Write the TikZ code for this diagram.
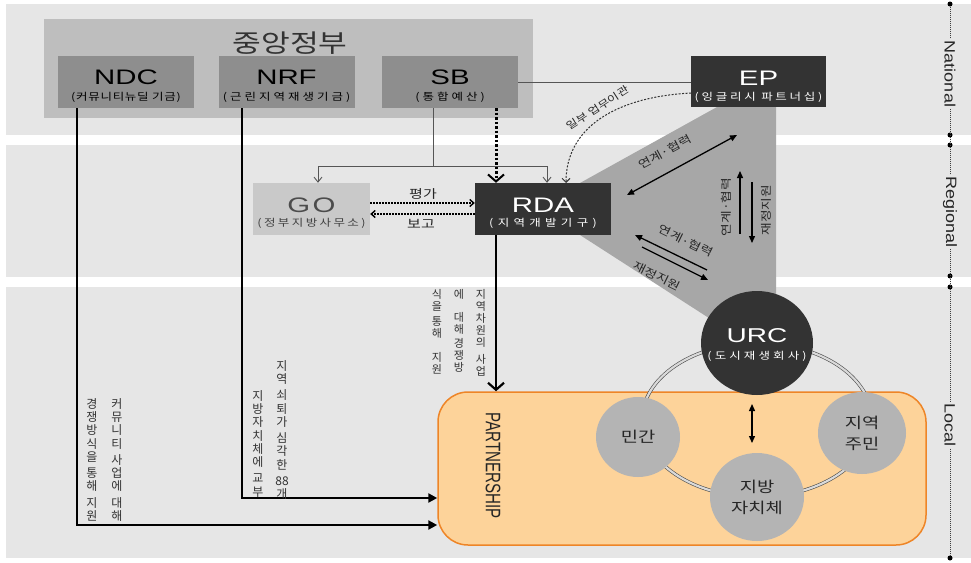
\documentclass[tikz,border=0pt]{standalone}
\usepackage{fontspec}
\setmainfont{Noto Sans CJK KR}[FakeStretch=1.25]
\newfontfamily\krv{Noto Sans CJK KR}
\newfontfamily\latt{Liberation Sans}[FakeStretch=1.4]
\newfontfamily\lata{Liberation Sans}[FakeStretch=1.2]
\newfontfamily\latn{Liberation Sans}[FakeStretch=0.72]
\usetikzlibrary{arrows.meta,calc,shapes.geometric}
\definecolor{bandbg}{HTML}{E6E6E6}
\definecolor{govgray}{HTML}{BEBEBE}
\definecolor{fundgray}{HTML}{8E8E8E}
\definecolor{gogray}{HTML}{C9C9C9}
\definecolor{darkbox}{HTML}{333333}
\definecolor{wedge}{HTML}{A7A7A7}
\definecolor{actor}{HTML}{B4B4B4}
\definecolor{pfill}{HTML}{FDD39A}
\definecolor{pline}{HTML}{EE8527}
\definecolor{thinline}{HTML}{555555}

\begin{document}
\begin{tikzpicture}[x=1pt,y=-1pt,
  fund/.style={fill=fundgray,minimum width=136pt,minimum height=52pt,inner sep=0pt},
  dbox/.style={fill=darkbox,minimum width=136pt,minimum height=52pt,inner sep=0pt},
  gobox/.style={fill=gogray,minimum width=117pt,minimum height=52pt,inner sep=0pt},
  ttl/.style={font=\latt\fontsize{21}{21}\selectfont\addfontfeature{LetterSpace=#1},inner sep=0pt},
  ttl/.default=0,
  sub/.style={font=\fontsize{10}{11}\selectfont\addfontfeature{LetterSpace=#1},inner sep=0pt},
  sub/.default=0,
  vcol/.style={font=\krv\fontsize{12}{13.3}\selectfont,align=center,inner sep=0pt,anchor=north,text=black!80},
  vsm/.style={font=\krv\fontsize{11}{12}\selectfont,align=center,inner sep=0pt,anchor=north,text=black!80},
  lbl/.style={font=\fontsize{11}{12}\selectfont,inner sep=0pt,text=black!85},
  actorc/.style={ellipse,fill=actor,inner sep=0pt,align=center,font=\fontsize{15}{21}\selectfont,text=black!85},
  trunk/.style={line width=2.5pt,-{Triangle[length=9pt,width=9pt]}},
  feed/.style={thinline,line width=0.9pt},
  barb/.style={-{Straight Barb[length=5pt,width=8pt]}},
  twoway/.style={line width=1.3pt,{Triangle[length=7pt,width=6pt]}-{Triangle[length=7pt,width=6pt]}},
  oneway/.style={line width=1.3pt,-{Triangle[length=7pt,width=6pt]}},
  report/.style={line width=1.4pt,dash pattern=on 2pt off 1pt,-{Straight Barb[length=4pt,width=7pt]}},
  axl/.style={font=\lata\fontsize{15}{15}\selectfont,rotate=-90,fill=bandbg,inner sep=1.5pt,text=black!85},
  axdot/.style={circle,fill=black,inner sep=0pt,minimum size=5pt},
]
\useasboundingbox (0,0) rectangle (971,562);
\fill[white] (0,0) rectangle (971,562);

% level bands
\fill[bandbg] (6,4) rectangle (971,135);
\fill[bandbg] (6,145) rectangle (971,277);
\fill[bandbg] (6,287) rectangle (971,558);

% central government and its funds
\node[fill=govgray,minimum width=489pt,minimum height=99pt,inner sep=0pt] (cg) at (288.5,68.5) {};
\node[font=\fontsize{25}{25}\selectfont,text=black!80,inner sep=0pt] (cgt) at (290,43) {중앙정부};

\node[fund] (ndc) at (126,82) {};
\node[ttl] (ndct) at (126,77.5) {NDC};
\node[sub=7] (ndcs) at (126,97.5) {(커뮤니티뉴딜 기금)};
\node[fund] (nrf) at (286.5,82) {};
\node[ttl] (nrft) at (286.5,77.5) {NRF};
\node[sub=30] (nrfs) at (286.5,97.5) {(근린지역재생기금)};
\node[fund] (sb) at (450,82) {};
\node[ttl] (sbt) at (450,77.5) {SB};
\node[sub=30] (sbs) at (450,97.5) {(통합예산)};

% shaded wedge linking RDA, EP and URC
\fill[wedge] (580,183) -- (717,107) -- (776,107) -- (776,320) -- (712,320) -- (580,235) -- cycle;

% English Partnerships
\node[dbox,minimum width=135pt,minimum height=51pt] (ep) at (758.5,81.5) {};
\node[ttl,text=white] (ept) at (758.5,78) {EP};
\node[sub=27,text=white] (eps) at (758.5,97.5) {(잉글리시 파트너십)};

% regional bodies
\node[gobox] (go) at (311.5,209) {};
\node[ttl=12,text=black!70] (got) at (311.5,205) {GO};
\node[sub=24,text=black!75] (gos) at (311.5,223) {(정부지방사무소)};
\node[dbox] (rda) at (543,209) {};
\node[ttl,text=white] (rdat) at (543,205) {RDA};
\node[sub=43,text=white] (rdas) at (543,223) {(지역개발기구)};

% local partnership
\node[draw=pline,fill=pfill,line width=1.5pt,rounded corners=30pt,minimum width=488pt,minimum height=153pt,inner sep=0pt] (ps) at (682,468.5) {};
\node[font=\latn\fontsize{21}{21}\selectfont,rotate=-90,inner sep=0pt,text=black!85] (pst) at (493,466) {PARTNERSHIP};

% ring joining the partners
\draw[black!70,line width=0.6pt,double=actor!50!white,double distance=2.2pt] (757,420) ellipse [x radius=115pt, y radius=77pt];

\node[ellipse,fill=darkbox,minimum width=112pt,minimum height=104pt,inner sep=0pt] (urc) at (757,343) {};
\node[ttl,font=\latt\fontsize{20}{20}\selectfont,text=white] (urct) at (757,336) {URC};
\node[sub=31,text=white] (urcs) at (757,356) {(도시재생회사)};

\node[actorc,minimum width=84pt,minimum height=80pt] (priv) at (638,437) {민간};
\node[actorc,minimum width=88pt,minimum height=82pt] (resd) at (862,433) {지역\\주민};
\node[actorc,minimum width=94pt,minimum height=88pt] (lgov) at (757,497) {지방\\자치체};

\coordinate (mu) at (752,404);
\coordinate (md) at (752,443);
\draw[twoway] (mu) -- (md);

% funding trunks to the partnership
\draw[trunk] (ndc.south -| 77,0) |- (ps.west |- 0,525);
\draw[trunk] (nrf.south -| 242,0) |- (ps.west |- 0,498);
\draw[line width=2.8pt,-{Straight Barb[length=7pt,width=16pt,line width=2.2pt]}] (rda.south -| 496,0) -- (ps.north -| 496,0);

% single budget feeds
\coordinate (sbd) at (433,108);
\coordinate (jmid) at (433,166);
\coordinate (jl) at (318,166);
\coordinate (jr) at (547,166);
\draw[feed] (sbd) -- (jmid);
\draw[feed] (jl) -- (jr);
\draw[feed,barb] (jl) -- (go.north -| jl);
\draw[feed,barb] (jr) -- (rda.north -| jr);
\draw[feed] (sb.east) -- (ep.west |- sb.east);
\draw[line width=3pt,dash pattern=on 2.5pt off 2pt,-{Straight Barb[length=7pt,width=16pt,line width=2pt]}] (sb.south -| 496,0) -- (rda.north -| 496,0);

% EP hands over part of its tasks
\coordinate (epl) at (691,93);
\coordinate (rdc) at (566,183);
\draw[black!80,line width=1pt,dash pattern=on 2pt off 1.5pt,-{Straight Barb[length=4pt,width=8pt]}] (epl) .. controls (615,97) and (566,128) .. (rdc);
\node[lbl,font=\fontsize{10}{11}\selectfont,rotate=33] (handover) at (598,108) {일부 업무이관};

% GO <-> RDA
\draw[report] (go.east |- 0,203) -- (rda.west |- 0,203);
\draw[report] (rda.west |- 0,214) -- (go.east |- 0,214);
\node[lbl,font=\fontsize{12}{12}\selectfont] (eval) at (423,194) {평가};
\node[lbl,font=\fontsize{12}{12}\selectfont] (rep) at (421,224) {보고};

% exchanges inside the wedge
\coordinate (w1a) at (627,195);
\coordinate (w1b) at (737,135);
\draw[twoway] (w1a) -- (w1b);
\node[lbl,rotate=28.6] (w1l) at (665,152) {연계·협력};
\coordinate (w2a) at (740,234);
\coordinate (w2b) at (740,171);
\coordinate (w3a) at (752,182);
\coordinate (w3b) at (752,243);
\draw[oneway] (w2a) -- (w2b);
\draw[oneway] (w3a) -- (w3b);
\node[lbl,rotate=90] (w2l) at (726,207) {연계·협력};
\node[lbl,rotate=90] (w3l) at (766,210) {재정지원};
\coordinate (w4a) at (707,270);
\coordinate (w4b) at (635,235);
\coordinate (w5a) at (642,247);
\coordinate (w5b) at (708,280);
\draw[oneway] (w4a) -- (w4b);
\draw[oneway] (w5a) -- (w5b);
\node[lbl,rotate=-26] (w4l) at (686,241) {연계·협력};
\node[lbl,rotate=-26] (w5l) at (657,276) {재정지원};

% vertical notes beside the trunks
\node[vcol] (n1r) at (117,398) {커\\뮤\\니\\티\\[3pt]사\\업\\에\\[3pt]대\\해};
\node[vcol] (n1l) at (92,398) {경\\쟁\\방\\식\\을\\[3pt]통\\해\\[3pt]지\\원};
\node[vcol] (n2r) at (282,360) {지\\역\\[3pt]쇠\\퇴\\가\\[3pt]심\\각\\한\\[3pt]88\\개};
\node[vcol] (n2l) at (258,390) {지\\방\\자\\치\\체\\에\\[3pt]교\\부};
\node[vsm] (n3r) at (481,289) {지\\역\\차\\원\\의\\[5pt]사\\업};
\node[vsm] (n3m) at (459,289) {에\\[11pt]대\\해\\[2pt]경\\쟁\\방};
\node[vsm] (n3l) at (437,289) {식\\을\\[3pt]통\\해\\[12pt]지\\원};

% level axis
\node[axdot] (a1) at (950,4) {};
\node[axdot] (a2) at (950,135) {};
\node[axdot] (a3) at (950,145) {};
\node[axdot] (a4) at (950,276) {};
\node[axdot] (a5) at (950,287) {};
\node[axdot] (a6) at (950,558) {};
\draw[black!75,line width=0.8pt,dash pattern=on 1pt off 1pt] (a1) -- (a6);
\node[axl] (lnat) at (950,74) {National};
\node[axl] (lreg) at (950,212) {Regional};
\node[axl] (lloc) at (950,425) {Local};
\end{tikzpicture}
\end{document}
